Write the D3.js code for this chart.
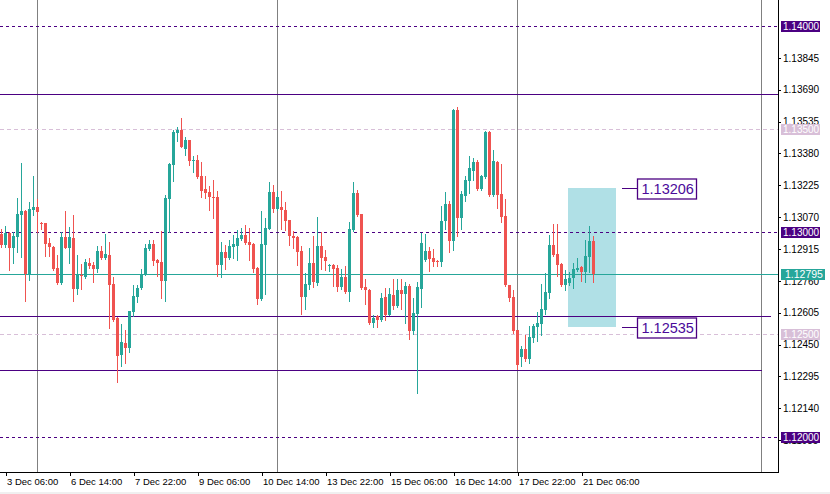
<!DOCTYPE html>
<html>
<head>
<meta charset="utf-8">
<script src="https://cdn.jsdelivr.net/npm/d3@7"></script>
<style>
  body { margin: 0; background: #fff; }
  svg { display: block; font-family: 'Liberation Sans', Arial, sans-serif; }
</style>
</head>
<body>
<div id="chart"></div>
<script>
// EURUSD H2 bars
const opens = [
  1.12988, 1.12934, 1.12994, 1.12920, 1.12975, 1.13080, 1.13100, 1.12792, 1.13105, 1.13119,
  1.13041, 1.13041, 1.12944, 1.12925, 1.12822, 1.12749, 1.12973, 1.12920, 1.12968, 1.12720,
  1.12790, 1.12779, 1.12847, 1.12837, 1.12817, 1.12905, 1.12871, 1.12886, 1.12744, 1.12579,
  1.12399, 1.12457, 1.12433, 1.12608, 1.12681, 1.12725, 1.12793, 1.12915, 1.12939, 1.12861,
  1.12852, 1.12759, 1.13158, 1.13324, 1.13479, 1.13494, 1.13401, 1.13445, 1.13343, 1.13348,
  1.13270, 1.13207, 1.13192, 1.13170, 1.13168, 1.12837, 1.12900, 1.12871, 1.12925, 1.12929,
  1.12963, 1.12983, 1.12949, 1.12939, 1.12822, 1.12671, 1.12934, 1.13012, 1.13192, 1.13109,
  1.13119, 1.13105, 1.13056, 1.12978, 1.12973, 1.12905, 1.12681, 1.12740, 1.12847, 1.12749,
  1.12929, 1.12876, 1.12835, 1.12837, 1.12822, 1.12730, 1.12779, 1.12706, 1.13007, 1.13187,
  1.13085, 1.12730, 1.12715, 1.12555, 1.12589, 1.12569, 1.12681, 1.12594, 1.12691, 1.12637,
  1.12715, 1.12696, 1.12735, 1.12516, 1.12598, 1.12720, 1.12861, 1.12905, 1.12871, 1.12855,
  1.12852, 1.13051, 1.13134, 1.12954, 1.13591, 1.13066, 1.13173, 1.13246, 1.13294, 1.13338,
  1.13207, 1.13265, 1.13484, 1.13178, 1.13338, 1.13182, 1.13075, 1.12740, 1.12681, 1.12521,
  1.12389, 1.12428, 1.12380, 1.12482, 1.12535, 1.12550, 1.12618, 1.12701, 1.12934, 1.12891,
  1.12842, 1.12740, 1.12749, 1.12774, 1.12813, 1.12827, 1.12803, 1.12876, 1.12954
];
const highs = [
  1.13012, 1.13027, 1.12999, 1.12999, 1.13163, 1.13333, 1.13105, 1.13144, 1.13270, 1.13156,
  1.13048, 1.13043, 1.12968, 1.12929, 1.12886, 1.12998, 1.13100, 1.13022, 1.13080, 1.12886,
  1.12842, 1.12866, 1.12871, 1.12852, 1.12929, 1.12929, 1.12988, 1.12949, 1.12779, 1.12584,
  1.12550, 1.12521, 1.12613, 1.12740, 1.12740, 1.12817, 1.12939, 1.12959, 1.12959, 1.12866,
  1.13002, 1.13178, 1.13333, 1.13494, 1.13508, 1.13552, 1.13460, 1.13447, 1.13367, 1.13372,
  1.13338, 1.13270, 1.13221, 1.13251, 1.13197, 1.12949, 1.12934, 1.12959, 1.12983, 1.13007,
  1.13017, 1.13032, 1.13017, 1.12942, 1.12827, 1.13100, 1.13066, 1.13241, 1.13226, 1.13197,
  1.13197, 1.13144, 1.13058, 1.13002, 1.12978, 1.12929, 1.12798, 1.12920, 1.12978, 1.13071,
  1.12998, 1.12910, 1.12842, 1.12842, 1.12837, 1.12817, 1.12832, 1.13046, 1.13241, 1.13202,
  1.13087, 1.12769, 1.12720, 1.12594, 1.12594, 1.12701, 1.12725, 1.12725, 1.12769, 1.12769,
  1.12769, 1.12754, 1.12744, 1.12676, 1.12754, 1.12993, 1.12988, 1.12925, 1.12915, 1.12861,
  1.13124, 1.13192, 1.13148, 1.13596, 1.13606, 1.13197, 1.13270, 1.13367, 1.13358, 1.13348,
  1.13275, 1.13489, 1.13489, 1.13397, 1.13341, 1.13328, 1.13158, 1.12742, 1.12715, 1.12523,
  1.12443, 1.12496, 1.12540, 1.12550, 1.12608, 1.12745, 1.12798, 1.12983, 1.13036, 1.13036,
  1.12845, 1.12813, 1.12803, 1.12847, 1.12871, 1.12830, 1.12959, 1.13027, 1.12978
];
const lows = [
  1.12926, 1.12926, 1.12813, 1.12848, 1.12902, 1.12877, 1.12663, 1.12764, 1.13080, 1.12999,
  1.13011, 1.12881, 1.12881, 1.12813, 1.12744, 1.12744, 1.12918, 1.12847, 1.12662, 1.12696,
  1.12720, 1.12774, 1.12822, 1.12754, 1.12803, 1.12866, 1.12866, 1.12530, 1.12564, 1.12268,
  1.12345, 1.12360, 1.12414, 1.12589, 1.12657, 1.12720, 1.12790, 1.12910, 1.12837, 1.12783,
  1.12676, 1.12662, 1.12998, 1.13246, 1.13440, 1.13409, 1.13372, 1.13324, 1.13290, 1.13262,
  1.13168, 1.13163, 1.13105, 1.13066, 1.12783, 1.12779, 1.12817, 1.12866, 1.12871, 1.12861,
  1.12959, 1.12941, 1.12861, 1.12803, 1.12647, 1.12667, 1.12696, 1.13011, 1.13095, 1.13105,
  1.13012, 1.13007, 1.12934, 1.12920, 1.12837, 1.12598, 1.12623, 1.12720, 1.12730, 1.12740,
  1.12817, 1.12813, 1.12808, 1.12735, 1.12710, 1.12720, 1.12701, 1.12662, 1.13004, 1.13077,
  1.12720, 1.12647, 1.12551, 1.12535, 1.12535, 1.12564, 1.12569, 1.12592, 1.12623, 1.12633,
  1.12623, 1.12555, 1.12477, 1.12501, 1.12214, 1.12633, 1.12858, 1.12808, 1.12832, 1.12832,
  1.12832, 1.13012, 1.12900, 1.12910, 1.12978, 1.13012, 1.13148, 1.13187, 1.13251, 1.13202,
  1.13202, 1.13260, 1.13173, 1.13173, 1.13114, 1.13046, 1.12737, 1.12662, 1.12506, 1.12330,
  1.12345, 1.12370, 1.12360, 1.12462, 1.12467, 1.12496, 1.12599, 1.12676, 1.12881, 1.12783,
  1.12737, 1.12715, 1.12740, 1.12725, 1.12808, 1.12759, 1.12754, 1.12803, 1.12754
];
const closes = [
  1.12934, 1.12994, 1.12920, 1.12980, 1.13085, 1.13100, 1.12792, 1.13109, 1.13119, 1.13095,
  1.13038, 1.12939, 1.12926, 1.12817, 1.12749, 1.12973, 1.12920, 1.12973, 1.12720, 1.12793,
  1.12785, 1.12852, 1.12832, 1.12817, 1.12905, 1.12871, 1.12890, 1.12740, 1.12569, 1.12394,
  1.12462, 1.12433, 1.12613, 1.12686, 1.12725, 1.12793, 1.12920, 1.12939, 1.12856, 1.12847,
  1.12759, 1.13163, 1.13328, 1.13484, 1.13494, 1.13411, 1.13445, 1.13343, 1.13346, 1.13265,
  1.13197, 1.13187, 1.13168, 1.13166, 1.12837, 1.12900, 1.12871, 1.12929, 1.12939, 1.12968,
  1.12983, 1.12944, 1.12934, 1.12817, 1.12671, 1.12939, 1.13017, 1.13192, 1.13109, 1.13168,
  1.13105, 1.13051, 1.12978, 1.12968, 1.12900, 1.12681, 1.12744, 1.12847, 1.12754, 1.12929,
  1.12871, 1.12856, 1.12839, 1.12817, 1.12730, 1.12779, 1.12706, 1.13012, 1.13187, 1.13080,
  1.12725, 1.12715, 1.12555, 1.12579, 1.12569, 1.12676, 1.12594, 1.12696, 1.12637, 1.12715,
  1.12696, 1.12735, 1.12516, 1.12603, 1.12730, 1.12944, 1.12905, 1.12866, 1.12852, 1.12852,
  1.13051, 1.13134, 1.12954, 1.13591, 1.13066, 1.13182, 1.13251, 1.13309, 1.13338, 1.13207,
  1.13270, 1.13484, 1.13178, 1.13343, 1.13178, 1.13071, 1.12740, 1.12678, 1.12516, 1.12350,
  1.12428, 1.12380, 1.12487, 1.12540, 1.12555, 1.12623, 1.12706, 1.12934, 1.12886, 1.12837,
  1.12740, 1.12769, 1.12774, 1.12818, 1.12822, 1.12803, 1.12881, 1.12954, 1.12795
];

// time axis: bar index of each label
const timeTickBars = [1, 17, 33, 49, 65, 81, 97, 113, 129, 145];
const timeTickLabels = [
  '3 Dec 06:00', '6 Dec 14:00', '7 Dec 22:00', '9 Dec 06:00', '10 Dec 14:00',
  '13 Dec 22:00', '15 Dec 06:00', '16 Dec 14:00', '17 Dec 22:00', '21 Dec 06:00'
];
const separatorBars = [9, 69, 129, 190];

const priceTicks = [
  1.11985, 1.12140, 1.12295, 1.12450, 1.12605, 1.12760, 1.12915,
  1.13070, 1.13225, 1.13380, 1.13535, 1.13690, 1.13845
];

// round levels
const roundLevels = [1.14000, 1.13000, 1.12000];
const halfLevels = [1.13500, 1.12500];
const bidPrice = 1.12795;

// trend lines: price and end bar
const trendPrices = [1.13669, 1.12589, 1.12326];
const trendEndBars = [194, 192.4, 190];

// rectangle zone
const zoneTop = 1.13212;
const zoneBottom = 1.12535;
const zoneStartBar = 141.5;
const zoneEndBar = 153.5;
const zoneLabels = ['1.13206', '1.12535'];

const BULL = '#26a69a';
const BEAR = '#ef5350';
const PURPLE = '#4b0082';
const THISTLE = '#d8bfd8';

class CandleChart {
  constructor({ container, width, height }) {
    this.container = container;
    this.width = width;
    this.height = height;
    this.plotRight = 778;
    this.plotBottom = 472;

    this.bars = opens.map((o, i) => ({
      i, open: o, high: highs[i], low: lows[i], close: closes[i],
    }));

    this.x = d3.scaleLinear().domain([0, 1]).range([1.5, 5.5]);
    this.y = d3.scaleLinear().domain([1.12, 1.14]).range([437, 26]);

    this.init();
  }

  py(v) {
    return Math.round(this.y(v)) + 0.5;
  }

  init() {
    this.svg = d3.select(this.container)
      .append('svg')
      .attr('width', this.width)
      .attr('height', this.height);

    this.svg.append('rect')
      .attr('width', this.width).attr('height', this.height)
      .attr('fill', '#fff');
    this.svg.append('rect')
      .attr('y', this.height - 2).attr('width', this.width).attr('height', 2)
      .attr('fill', '#f0f0f0');

    this.svg.append('clipPath').attr('id', 'plot')
      .append('rect')
      .attr('width', this.plotRight).attr('height', this.plotBottom);

    this.plot = this.svg.append('g')
      .attr('clip-path', 'url(#plot)')
      .attr('shape-rendering', 'crispEdges');

    this.drawZone();
    this.drawSeparators();
    this.drawLevels();
    this.drawCandles();
    this.drawAxes();
    this.drawZoneLabels();
  }

  drawZone() {
    this.plot.append('rect')
      .attr('x', this.x(zoneStartBar))
      .attr('y', this.y(zoneTop))
      .attr('width', this.x(zoneEndBar) - this.x(zoneStartBar))
      .attr('height', this.y(zoneBottom) - this.y(zoneTop))
      .attr('fill', '#b0e0e6');
  }

  drawSeparators() {
    this.plot.selectAll('line.sep')
      .data(separatorBars)
      .enter()
      .append('line')
      .attr('class', 'sep')
      .attr('x1', d => this.x(d)).attr('x2', d => this.x(d))
      .attr('y1', 0).attr('y2', this.plotBottom)
      .attr('stroke', '#808080');
  }

  drawLevels() {
    const hline = (v, color, dash, x2) => this.plot.append('line')
      .attr('x1', 0).attr('x2', x2 === undefined ? this.plotRight : x2)
      .attr('y1', this.py(v)).attr('y2', this.py(v))
      .attr('stroke', color)
      .attr('stroke-dasharray', dash);

    halfLevels.forEach(v => hline(v, THISTLE, '4,3'));
    roundLevels.forEach(v => hline(v, PURPLE, '3,3'));
    trendPrices.forEach((v, i) => hline(v, PURPLE, null, this.x(trendEndBars[i])));
    hline(bidPrice, BULL, null);
  }

  drawCandles() {
    const g = this.plot.selectAll('g.bar')
      .data(this.bars)
      .enter()
      .append('g')
      .attr('class', 'bar');

    const color = d => (d.close >= d.open ? BULL : BEAR);

    g.append('line')
      .attr('x1', d => this.x(d.i)).attr('x2', d => this.x(d.i))
      .attr('y1', d => Math.round(this.y(d.high)))
      .attr('y2', d => Math.round(this.y(d.low)) + 1)
      .attr('stroke', color);

    g.append('rect')
      .attr('x', d => this.x(d.i) - 1.5)
      .attr('width', 3)
      .attr('y', d => Math.round(this.y(Math.max(d.open, d.close))))
      .attr('height', d => Math.max(1,
        Math.round(this.y(Math.min(d.open, d.close))) - Math.round(this.y(Math.max(d.open, d.close)))))
      .attr('fill', color);
  }

  drawAxes() {
    const right = this.svg.append('g')
      .attr('transform', `translate(${this.plotRight},0)`)
      .call(d3.axisRight(this.y)
        .tickValues(priceTicks)
        .tickSize(3)
        .tickPadding(2)
        .tickFormat(d3.format('.5f')));
    right.select('.domain').remove();
    right.selectAll('line').attr('stroke', '#000').attr('shape-rendering', 'crispEdges');
    right.selectAll('text').attr('font-size', '10px').attr('fill', '#000')
      .attr('font-family', 'Liberation Sans, Arial, sans-serif');

    const bottom = this.svg.append('g')
      .attr('transform', `translate(0,${this.plotBottom})`)
      .call(d3.axisBottom(this.x)
        .tickValues(timeTickBars)
        .tickSize(4)
        .tickFormat((d, i) => timeTickLabels[i]));
    bottom.select('.domain').remove();
    bottom.selectAll('line').attr('stroke', '#000').attr('shape-rendering', 'crispEdges');
    bottom.selectAll('text')
      .attr('text-anchor', 'start')
      .attr('x', 1)
      .attr('y', 6)
      .attr('font-size', '9.5px')
      .attr('fill', '#000')
      .attr('font-family', 'Liberation Sans, Arial, sans-serif');

    // frame
    this.svg.append('path')
      .attr('d', `M0,${this.plotBottom + 0.5}H${this.plotRight + 0.5}V0`)
      .attr('fill', 'none')
      .attr('stroke', '#000')
      .attr('shape-rendering', 'crispEdges');

    // price tags on the axis (the bid tag is a bit wider)
    const tags = [
      ...roundLevels.map(v => ({ v, bg: PURPLE, w: 39, fs: 10 })),
      ...halfLevels.map(v => ({ v, bg: THISTLE, w: 39, fs: 10 })),
      { v: bidPrice, bg: BULL, w: 44, fs: 10.5 },
    ];
    const tag = this.svg.selectAll('g.tag')
      .data(tags)
      .enter()
      .append('g')
      .attr('class', 'tag')
      .attr('transform', d => `translate(${this.plotRight + 3},${this.py(d.v)})`);
    tag.append('rect')
      .attr('x', 0).attr('y', -5.5)
      .attr('width', d => d.w).attr('height', 11)
      .attr('fill', d => d.bg)
      .attr('shape-rendering', 'crispEdges');
    tag.append('text')
      .attr('x', d => (d.w > 39 ? 4 : 2)).attr('dy', '0.35em')
      .attr('font-size', d => `${d.fs}px`)
      .attr('fill', '#fff')
      .text(d => d3.format('.5f')(d.v));
  }

  drawZoneLabels() {
    const x0 = this.x(zoneEndBar) + 6;
    const lab = this.svg.selectAll('g.zl')
      .data([zoneTop, zoneBottom])
      .enter()
      .append('g')
      .attr('class', 'zl')
      .attr('transform', d => `translate(0,${this.py(d)})`);
    lab.append('line')
      .attr('x1', x0).attr('x2', x0 + 16)
      .attr('stroke', PURPLE)
      .attr('shape-rendering', 'crispEdges');
    lab.append('rect')
      .attr('x', x0 + 16).attr('y', -9.5)
      .attr('width', 59).attr('height', 20)
      .attr('fill', '#fff')
      .attr('stroke', PURPLE)
      .attr('stroke-width', 1.3);
    lab.append('text')
      .attr('x', x0 + 20).attr('dy', '0.36em')
      .attr('font-size', '14.5px')
      .attr('fill', '#4b0a9a')
      .text((d, i) => zoneLabels[i]);
  }
}

new CandleChart({ container: '#chart', width: 830, height: 494 });
</script>
</body>
</html>
